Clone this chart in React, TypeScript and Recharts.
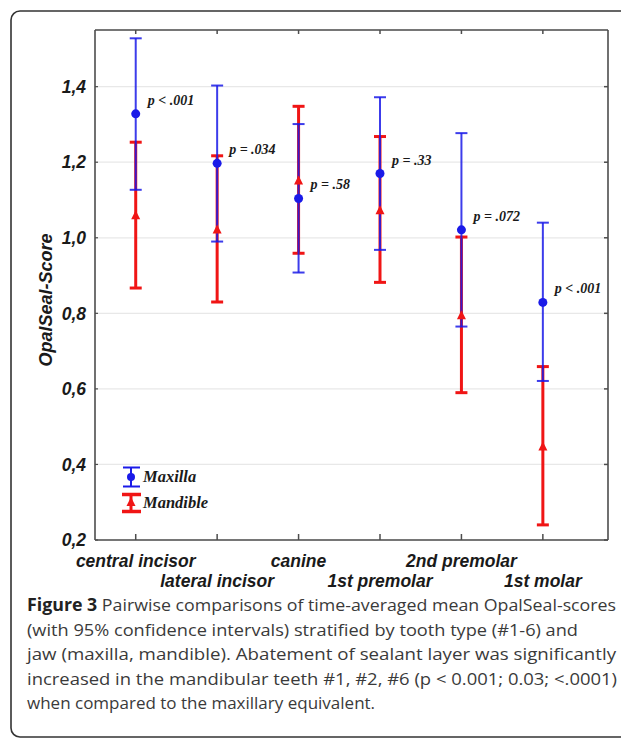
import React from "react";
import {
  ScatterChart,
  Scatter,
  XAxis,
  YAxis,
  CartesianGrid,
  ErrorBar,
} from "recharts";

const teeth = [
  "central incisor",
  "lateral incisor",
  "canine",
  "1st premolar",
  "2nd premolar",
  "1st molar",
];
const toothIdx = [0, 1, 2, 3, 4, 5];

const maxMean = [1.328, 1.197, 1.104, 1.17, 1.021, 0.829];
const maxLow = [1.127, 0.99, 0.908, 0.968, 0.765, 0.621];
const maxHigh = [1.528, 1.403, 1.301, 1.372, 1.277, 1.04];

const manMean = [1.057, 1.019, 1.149, 1.07, 0.792, 0.445];
const manLow = [0.867, 0.83, 0.959, 0.882, 0.59, 0.24];
const manHigh = [1.253, 1.217, 1.348, 1.268, 1.002, 0.659];

const pLabels = ["p < .001", "p = .034", "p =  .58", "p = .33", "p = .072", "p < .001"];
const yTicks = [0.2, 0.4, 0.6, 0.8, 1.0, 1.2, 1.4];

const captionLines = [
  "Pairwise comparisons of time-averaged mean OpalSeal-scores",
  "(with 95% confidence intervals) stratified by tooth type (#1-6) and",
  "jaw (maxilla, mandible). Abatement of sealant layer was significantly",
  "increased in the mandibular teeth #1, #2, #6 (p < 0.001; 0.03; <.0001)",
  "when compared to the maxillary equivalent.",
];

const BLUE = "#1a1ae8";
const RED = "#f01515";
const AXIS = "#4d4d4d";
const sansBI = {
  fontFamily: '"Liberation Sans", Arial, sans-serif',
  fontWeight: 700,
  fontStyle: "italic" as const,
};
const serifBI = {
  fontFamily: '"Liberation Serif", "Times New Roman", serif',
  fontWeight: 700,
  fontStyle: "italic" as const,
};

const maxillaData = toothIdx.map((i) => ({
  x: i,
  y: maxMean[i],
  err: [maxMean[i] - maxLow[i], maxHigh[i] - maxMean[i]],
  p: pLabels[i],
}));
const mandibleData = toothIdx.map((i) => ({
  x: i,
  y: manMean[i],
  err: [manMean[i] - manLow[i], manHigh[i] - manMean[i]],
}));

const xDomain = [-0.5, 5.8];
const yDomain = [0.2, 1.55];
const noTick = () => <g />;

function XTick({ x, y, payload }: any) {
  const i = payload.value as number;
  return (
    <text
      x={x}
      y={y + (i % 2 ? 45 : 25)}
      textAnchor="middle"
      fontSize={17.5}
      fill="#1a1a1a"
      style={sansBI}
    >
      {teeth[i]}
    </text>
  );
}

function MaxillaDot({ cx, cy, payload }: any) {
  return (
    <g>
      <circle cx={cx} cy={cy} r={4.5} fill={BLUE} />
      <text x={cx + 12} y={cy - 9} fontSize={14} fill="#1a1a1a" style={serifBI}>
        {payload.p}
      </text>
    </g>
  );
}

function MandibleTri({ cx, cy }: any) {
  return (
    <path
      d={`M${cx},${cy - 6} L${cx + 4.5},${cy + 3} L${cx - 4.5},${cy + 3} Z`}
      fill={RED}
    />
  );
}

function LegendBox() {
  return (
    <svg
      width={110}
      height={65}
      style={{ position: "absolute", left: 110, top: 455 }}
    >
      <line x1={21} y1={12} x2={21} y2={32} stroke={BLUE} strokeWidth={2} />
      <line x1={13} y1={12.5} x2={30} y2={12.5} stroke={BLUE} strokeWidth={2} />
      <line x1={13} y1={31.5} x2={30} y2={31.5} stroke={BLUE} strokeWidth={2} />
      <circle cx={21} cy={22} r={4} fill={BLUE} />
      <text x={33} y={27} fontSize={16.5} fill="#1a1a1a" style={serifBI}>
        Maxilla
      </text>
      <line x1={21} y1={39} x2={21} y2={57} stroke={RED} strokeWidth={3} />
      <line x1={12} y1={39.5} x2={31} y2={39.5} stroke={RED} strokeWidth={3.5} />
      <line x1={12} y1={56.5} x2={31} y2={56.5} stroke={RED} strokeWidth={3.5} />
      <path d="M21,42 L25.5,51 L16.5,51 Z" fill={RED} />
      <text x={33} y={53} fontSize={16.5} fill="#1a1a1a" style={serifBI}>
        Mandible
      </text>
    </svg>
  );
}

export default function App() {
  return (
    <div
      style={{
        position: "absolute",
        left: 0,
        top: 0,
        width: 621,
        height: 740,
        background: "#fff",
        overflow: "hidden",
      }}
    >
      <svg
        width={621}
        height={740}
        style={{ position: "absolute", left: 0, top: 0 }}
      >
        <rect
          x={11}
          y={11}
          width={700}
          height={726}
          rx={9}
          fill="none"
          stroke="#333"
          strokeWidth={1.6}
        />
      </svg>
      <div style={{ position: "absolute", left: 0, top: 0 }}>
        <ScatterChart
          width={621}
          height={600}
          margin={{ top: 30, right: 13, bottom: 20, left: 45 }}
        >
          <CartesianGrid vertical={false} stroke="#e8e8e8" strokeWidth={1.2} />
          <XAxis
            type="number"
            dataKey="x"
            domain={xDomain}
            ticks={toothIdx}
            allowDataOverflow
            height={40}
            tickSize={0}
            tickLine={false}
            tick={<XTick />}
            axisLine={{ stroke: AXIS, strokeWidth: 1.6 }}
            interval={0}
          />
          <XAxis
            xAxisId="bottomIn"
            type="number"
            dataKey="x"
            domain={xDomain}
            ticks={toothIdx}
            allowDataOverflow
            mirror
            tickSize={6}
            tick={noTick}
            tickLine={{ stroke: AXIS, strokeWidth: 1.5 }}
            axisLine={false}
            interval={0}
          />
          <XAxis
            xAxisId="top"
            orientation="top"
            type="number"
            dataKey="x"
            domain={xDomain}
            ticks={toothIdx}
            allowDataOverflow
            mirror
            tickSize={4}
            tick={noTick}
            tickLine={{ stroke: AXIS, strokeWidth: 1.5 }}
            axisLine={{ stroke: AXIS, strokeWidth: 1.6 }}
            interval={0}
          />
          <YAxis
            type="number"
            dataKey="y"
            domain={yDomain}
            ticks={yTicks}
            allowDataOverflow
            width={50}
            tickSize={0}
            tickMargin={9}
            tickLine={false}
            tickFormatter={(v: number) => v.toFixed(1).replace(".", ",")}
            tick={{ ...sansBI, fontSize: 17.5, fill: "#1a1a1a" }}
            axisLine={{ stroke: AXIS, strokeWidth: 1.6 }}
            interval={0}
            label={{
              content: ({ viewBox }: any) => (
                <text
                  transform={`translate(52, ${viewBox.y + viewBox.height / 2 + 15}) rotate(-90)`}
                  textAnchor="middle"
                  fontSize={18}
                  fill="#1a1a1a"
                  style={sansBI}
                >
                  OpalSeal-Score
                </text>
              ),
            }}
          />
          <YAxis
            yAxisId="leftIn"
            type="number"
            dataKey="y"
            domain={yDomain}
            ticks={yTicks}
            allowDataOverflow
            mirror
            tickSize={3}
            tick={noTick}
            tickLine={{ stroke: AXIS, strokeWidth: 1.2 }}
            axisLine={false}
            interval={0}
          />
          <YAxis
            yAxisId="right"
            orientation="right"
            type="number"
            dataKey="y"
            domain={yDomain}
            ticks={yTicks}
            allowDataOverflow
            mirror
            tickSize={4}
            tick={noTick}
            tickLine={{ stroke: AXIS, strokeWidth: 1.5 }}
            axisLine={{ stroke: AXIS, strokeWidth: 1.6 }}
            interval={0}
          />
          <Scatter data={mandibleData} shape={noTick} isAnimationActive={false}>
            <ErrorBar dataKey="err" direction="y" width={6} stroke={RED} strokeWidth={3} />
          </Scatter>
          <Scatter data={maxillaData} shape={noTick} isAnimationActive={false}>
            <ErrorBar
              dataKey="err"
              direction="y"
              width={6}
              stroke={BLUE}
              strokeWidth={2}
              strokeOpacity={0.85}
            />
          </Scatter>
          <Scatter
            name="Mandible"
            data={mandibleData}
            shape={<MandibleTri />}
            isAnimationActive={false}
          />
          <Scatter
            name="Maxilla"
            data={maxillaData}
            shape={<MaxillaDot />}
            isAnimationActive={false}
          />
        </ScatterChart>
      </div>
      <LegendBox />
      <svg
        width={621}
        height={150}
        style={{ position: "absolute", left: 0, top: 590 }}
      >
        {captionLines.map((line, i) => (
          <text
            key={i}
            x={27}
            y={21 + i * 24.5}
            fontSize={17}
            fill="#3a3a3a"
            style={{ fontFamily: '"Open Sans", "Noto Sans", sans-serif' }}
            textLength={[589, 551, 589, 590, undefined][i]}
            lengthAdjust="spacingAndGlyphs"
          >
            {i === 0 ? (
              <>
                <tspan fontWeight={700} fill="#222">Figure 3</tspan> {line}
              </>
            ) : (
              line
            )}
          </text>
        ))}
      </svg>
    </div>
  );
}
